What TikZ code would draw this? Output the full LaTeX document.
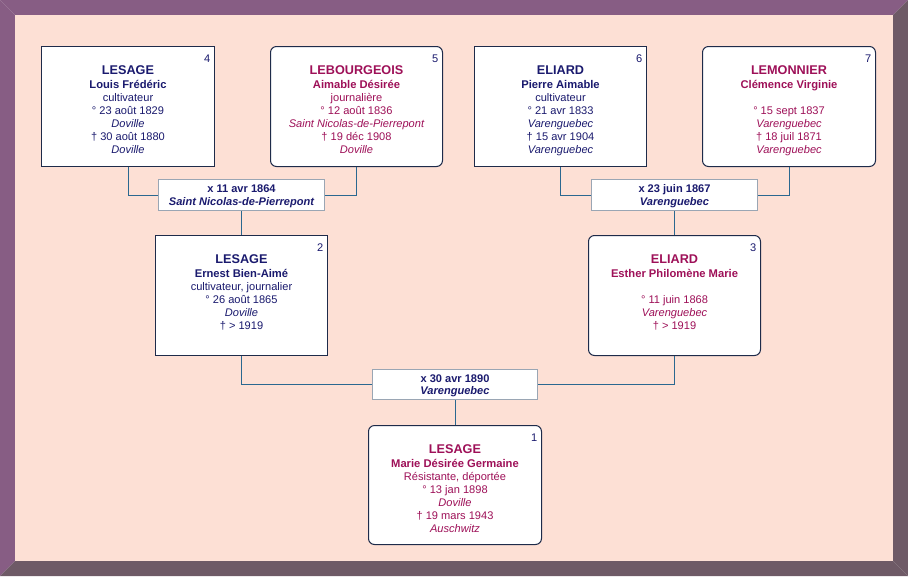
\documentclass[tikz,border=0pt]{standalone}
\usepackage{fontspec}
\setmainfont{Liberation Sans}
\usetikzlibrary{fit,calc}
\definecolor{male}{HTML}{1A1A6E}
\definecolor{female}{HTML}{9E1058}
\definecolor{boxborder}{HTML}{1E2B4A}
\definecolor{linkcol}{HTML}{2A6890}
\definecolor{mborder}{HTML}{9AA6B4}
\definecolor{bgfill}{HTML}{FDE0D5}
\definecolor{frameA}{HTML}{875D84}
\definecolor{frameB}{HTML}{6E5A66}
\tikzset{
  pbox/.style={draw=boxborder, fill=white, line width=0.75pt, inner sep=0pt},
  fbox/.style={pbox, rounded corners=4.5pt},
  mbox/.style={draw=mborder, fill=white, line width=0.75pt, inner sep=0pt},
  link/.style={draw=linkcol, line width=0.75pt},
  sname/.style={anchor=base, inner sep=0pt, font=\fontsize{9.5}{11}\selectfont\bfseries},
  gname/.style={anchor=base, inner sep=0pt, font=\fontsize{8.4}{10}\selectfont\bfseries},
  txt/.style={anchor=base, inner sep=0pt, font=\fontsize{8.3}{10}\selectfont},
  itxt/.style={anchor=base, inner sep=0pt, font=\fontsize{8.3}{10}\selectfont\itshape},
  mtxt/.style={anchor=base, inner sep=0pt, text=male, font=\fontsize{8.3}{10}\selectfont\bfseries},
  mitxt/.style={anchor=base, inner sep=0pt, text=male, font=\fontsize{8.3}{10}\selectfont\bfseries\itshape},
  numtxt/.style={anchor=base east, inner sep=0pt, text=male, font=\fontsize{8.3}{10}\selectfont},
}
\newcommand\pline[4]{\node[#1] at ($(#2.north)+(0,#3)$) {#4};}
\newcommand\pnum[2]{\node[numtxt] at ($(#1.north east)+(-4.5,16)$) {#2};}
\begin{document}
\begin{tikzpicture}[x=0.75pt,y=-0.75pt]
\useasboundingbox (0,0) rectangle (908,576);
% frame
\fill[frameA] (0,0) -- (908,0) -- (893,15) -- (15,15) -- cycle;
\fill[frameA] (0,0) -- (15,15) -- (15,561) -- (0,576) -- cycle;
\fill[frameB] (908,0) -- (908,576) -- (893,561) -- (893,15) -- cycle;
\fill[frameB] (0,576) -- (908,576) -- (893,561) -- (15,561) -- cycle;
\fill[bgfill] (15,15) rectangle (893,561);

% boxes
\node[pbox, fit={(41.5,46.5) (214.5,166.5)}] (b4) {};
\node[fbox, fit={(270.5,46.5) (442.5,166.5)}] (b5) {};
\node[pbox, fit={(474.5,46.5) (646.5,166.5)}] (b6) {};
\node[fbox, fit={(702.5,46.5) (875.5,166.5)}] (b7) {};
\node[mbox, fit={(158.5,179.5) (324.5,210.5)}] (m1) {};
\node[mbox, fit={(591.5,179.5) (757.5,210.5)}] (m2) {};
\node[pbox, fit={(155.5,235.5) (327.5,355.5)}] (b2) {};
\node[fbox, fit={(588.5,235.5) (760.5,355.5)}] (b3) {};
\node[mbox, fit={(372.5,369.5) (537.5,399.5)}] (m3) {};
\node[fbox, fit={(368.5,425.5) (541.5,544.5)}] (b1) {};

% connectors
\draw[link] (b4.south) |- (m1.west);
\draw[link] (b5.south) |- (m1.east);
\draw[link] (m1.south) -- (b2.north);
\draw[link] (b6.south) |- (m2.west);
\draw[link] (b7.south) |- (m2.east);
\draw[link] (m2.south) -- (b3.north);
\draw[link] (b2.south) |- (m3.west);
\draw[link] (b3.south) |- (m3.east);
\draw[link] (m3.south) -- (b1.north);

% box 4
\pnum{b4}{4}
\pline{sname,text=male}{b4}{28.5}{LESAGE}
\pline{gname,text=male}{b4}{42}{Louis Frédéric}
\pline{txt,text=male}{b4}{55}{cultivateur}
\pline{txt,text=male}{b4}{68}{° 23 août 1829}
\pline{itxt,text=male}{b4}{81}{Doville}
\pline{txt,text=male}{b4}{94}{† 30 août 1880}
\pline{itxt,text=male}{b4}{107}{Doville}

% box 5
\pnum{b5}{5}
\pline{sname,text=female}{b5}{28.5}{LEBOURGEOIS}
\pline{gname,text=female}{b5}{42}{Aimable Désirée}
\pline{txt,text=female}{b5}{55}{journalière}
\pline{txt,text=female}{b5}{68}{° 12 août 1836}
\pline{itxt,text=female}{b5}{81}{Saint Nicolas-de-Pierrepont}
\pline{txt,text=female}{b5}{94}{† 19 déc 1908}
\pline{itxt,text=female}{b5}{107}{Doville}

% box 6
\pnum{b6}{6}
\pline{sname,text=male}{b6}{28.5}{ELIARD}
\pline{gname,text=male}{b6}{42}{Pierre Aimable}
\pline{txt,text=male}{b6}{55}{cultivateur}
\pline{txt,text=male}{b6}{68}{° 21 avr 1833}
\pline{itxt,text=male}{b6}{81}{Varenguebec}
\pline{txt,text=male}{b6}{94}{† 15 avr 1904}
\pline{itxt,text=male}{b6}{107}{Varenguebec}

% box 7
\pnum{b7}{7}
\pline{sname,text=female}{b7}{28.5}{LEMONNIER}
\pline{gname,text=female}{b7}{42}{Clémence Virginie}
\pline{txt,text=female}{b7}{68}{° 15 sept 1837}
\pline{itxt,text=female}{b7}{81}{Varenguebec}
\pline{txt,text=female}{b7}{94}{† 18 juil 1871}
\pline{itxt,text=female}{b7}{107}{Varenguebec}

% marriages
\pline{mtxt}{m1}{13.3}{x 11 avr 1864}
\pline{mitxt}{m1}{26}{Saint Nicolas-de-Pierrepont}
\pline{mtxt}{m2}{13.3}{x 23 juin 1867}
\pline{mitxt}{m2}{26}{Varenguebec}
\pline{mtxt}{m3}{13.5}{x 30 avr 1890}
\pline{mitxt}{m3}{25.5}{Varenguebec}

% box 2
\pnum{b2}{2}
\pline{sname,text=male}{b2}{28.5}{LESAGE}
\pline{gname,text=male}{b2}{42}{Ernest Bien-Aimé}
\pline{txt,text=male}{b2}{55}{cultivateur, journalier}
\pline{txt,text=male}{b2}{68}{° 26 août 1865}
\pline{itxt,text=male}{b2}{81}{Doville}
\pline{txt,text=male}{b2}{94}{† > 1919}

% box 3
\pnum{b3}{3}
\pline{sname,text=female}{b3}{28.5}{ELIARD}
\pline{gname,text=female}{b3}{42}{Esther Philomène Marie}
\pline{txt,text=female}{b3}{68}{° 11 juin 1868}
\pline{itxt,text=female}{b3}{81}{Varenguebec}
\pline{txt,text=female}{b3}{94}{† > 1919}

% box 1
\pnum{b1}{1}
\pline{sname,text=female}{b1}{28.5}{LESAGE}
\pline{gname,text=female}{b1}{42}{Marie Désirée Germaine}
\pline{txt,text=female}{b1}{55}{Résistante, déportée}
\pline{txt,text=female}{b1}{68}{° 13 jan 1898}
\pline{itxt,text=female}{b1}{81}{Doville}
\pline{txt,text=female}{b1}{94}{† 19 mars 1943}
\pline{itxt,text=female}{b1}{107}{Auschwitz}
\end{tikzpicture}
\end{document}
